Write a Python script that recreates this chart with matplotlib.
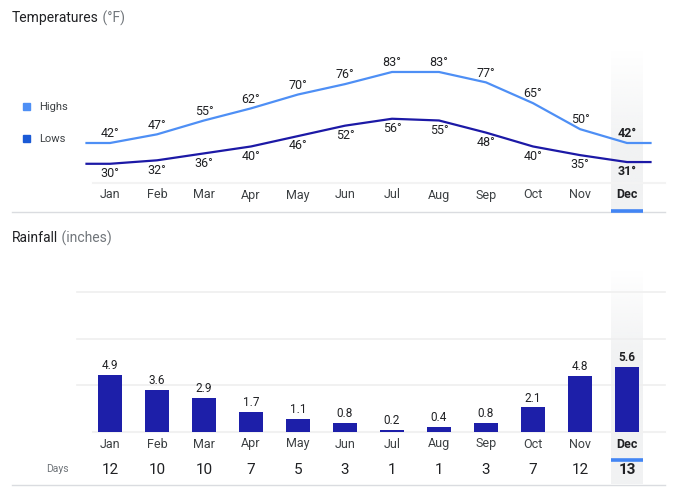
import numpy as np
import matplotlib.pyplot as plt
from matplotlib.patches import Rectangle
from matplotlib.transforms import blended_transform_factory as blend

# data
months = ['Jan', 'Feb', 'Mar', 'Apr', 'May', 'Jun', 'Jul', 'Aug', 'Sep', 'Oct', 'Nov', 'Dec']
highs = [42, 47, 55, 62, 70, 76, 83, 83, 77, 65, 50, 42]
lows = [30, 32, 36, 40, 46, 52, 56, 55, 48, 40, 35, 31]
rain = [4.9, 3.6, 2.9, 1.7, 1.1, 0.8, 0.2, 0.4, 0.8, 2.1, 4.8, 5.6]
rain_days = [12, 10, 10, 7, 5, 3, 1, 1, 3, 7, 12, 13]
selected = 11

W, H = 677, 493
X0, DX = 110, 47          # pixel x of first month, month spacing
HI_C, LO_C = '#4e8ff5', '#1c19a6'
BAR_C = '#1d1fa9'
TXT = '#202124'
GREY = '#70757a'

plt.rcParams['font.family'] = ['Roboto', 'DejaVu Sans']

fig = plt.figure(figsize=(W / 100, H / 100), dpi=100)

# background axes in pixel coordinates
bg = fig.add_axes([0, 0, 1, 1], zorder=0)
bg.set_xlim(0, W)
bg.set_ylim(H, 0)
bg.axis('off')

xlim = (-X0 / DX, (W - X0) / DX)
n = len(months)
x = np.arange(n)

# highlight band for the selected month (fades in at the top)
sx = X0 + DX * selected
band = np.zeros((200, 1, 4))
band[..., 0] = 241 / 255
band[..., 1] = 242 / 255
band[..., 2] = 243 / 255
band[:, 0, 3] = np.clip(np.linspace(0, 1.6, 200), 0, 1)
bg.imshow(band, extent=[sx - 16, sx + 16, 211, 50], aspect='auto', interpolation='bilinear', zorder=0)
band2 = band.copy()
band2[:, 0, 3] = np.clip(np.linspace(0, 2.5, 200), 0, 1)
bg.imshow(band2, extent=[sx - 16, sx + 16, 484, 270], aspect='auto', interpolation='bilinear', zorder=0)
bg.set_xlim(0, W)
bg.set_ylim(H, 0)

# ---------------- temperatures ----------------
ax_t = fig.add_axes([0, 1 - 220 / H, 1, 220 / H], zorder=1)
ax_t.patch.set_alpha(0)
ax_t.axis('off')
k = 1.732
ax_t.set_xlim(*xlim)
ax_t.set_ylim(42 - (220 - 143) / k, 42 + 143 / k)

xs = np.r_[-0.5, x, n - 0.5]
ax_t.plot(xs, np.r_[highs[0], highs, highs[-1]], color=HI_C, lw=1.6, solid_joinstyle='round')
ax_t.plot(xs, np.r_[lows[0], lows, lows[-1]], color=LO_C, lw=1.6, solid_joinstyle='round')

for i in range(n):
    w = 'bold' if i == selected else 'normal'
    ax_t.annotate(f'{highs[i]}°', (i, highs[i]), xytext=(0, 6.6), textcoords='offset points',
                  ha='center', va='center', fontsize=9, color=TXT, weight=w)
    ax_t.annotate(f'{lows[i]}°', (i, lows[i]), xytext=(0, -7), textcoords='offset points',
                  ha='center', va='center', fontsize=9, color=TXT, weight=w)

tr_t = blend(ax_t.transData, bg.transData)
for i, m in enumerate(months):
    ax_t.text(i, 195, m, transform=tr_t, ha='center', va='center', fontsize=9,
              color=TXT if i == selected else '#3c4043', weight='bold' if i == selected else 'normal')
ax_t.plot([-0.34 + selected, 0.34 + selected], [210.5, 210.5], transform=tr_t, color='#4285f4', lw=2.6,
          solid_capstyle='butt')

bg.plot([93, 665], [183, 183], color='#f3f3f3', lw=1.5)
bg.plot([12, 665], [211.5, 211.5], color='#dadce0', lw=1)

t1 = bg.text(12, 18, 'Temperatures', ha='left', va='center', fontsize=10, color=TXT)
bg.annotate(' (°F)', xy=(1, 0.5), xycoords=t1, ha='left', va='center', fontsize=10, color=GREY)

bg.add_patch(Rectangle((23, 103), 7, 7, color=HI_C))
bg.add_patch(Rectangle((23, 135), 7, 7, color='#1a5ad6'))
bg.text(39, 107, 'Highs', ha='left', va='center', fontsize=8, color='#3c4043')
bg.text(39, 139, 'Lows', ha='left', va='center', fontsize=8, color='#3c4043')

# ---------------- rainfall ----------------
ax_b = fig.add_axes([0, 0, 1, 273 / H], zorder=1)
ax_b.patch.set_alpha(0)
ax_b.axis('off')
kr = 11.67
ax_b.set_xlim(*xlim)
ax_b.set_ylim(-(H - 432) / kr, (432 - 220) / kr)

tr_g = blend(bg.transData, ax_b.transData)
for g in (4, 8, 12):
    ax_b.plot([77, 665], [g, g], transform=tr_g, color='#efefef', lw=1.2, zorder=0)
ax_b.plot([93, 665], [0, 0], transform=tr_g, color='#f1f1f1', lw=1.5, zorder=0)

ax_b.bar(x, rain, width=0.51, color=BAR_C, zorder=2)
for i in range(n):
    w = 'bold' if i == selected else 'normal'
    ax_b.annotate(f'{rain[i]}', (i, rain[i]), xytext=(0, 6.8), textcoords='offset points',
                  ha='center', va='center', fontsize=8.5, color=TXT, weight=w)

tr_b = blend(ax_b.transData, bg.transData)
for i, m in enumerate(months):
    sel = i == selected
    ax_b.text(i, 444, m, transform=tr_b, ha='center', va='center', fontsize=9,
              color=TXT if sel else '#3c4043', weight='bold' if sel else 'normal')
    ax_b.text(i, 470.5, str(rain_days[i]), transform=tr_b, ha='center', va='center', fontsize=11,
              color=TXT, weight='bold' if sel else 'normal')
ax_b.plot([-0.34 + selected, 0.34 + selected], [459.5, 459.5], transform=tr_b, color='#4285f4', lw=2.6,
          solid_capstyle='butt')

bg.text(57, 469, 'Days', ha='center', va='center', fontsize=7.5, color=GREY)
bg.plot([12, 665], [484.5, 484.5], color='#dadce0', lw=1)

t2 = bg.text(12, 238, 'Rainfall', ha='left', va='center', fontsize=10, color=TXT)
bg.annotate(' (inches)', xy=(1, 0.5), xycoords=t2, ha='left', va='center', fontsize=10, color=GREY)

fig.savefig('out.png', dpi=100)
